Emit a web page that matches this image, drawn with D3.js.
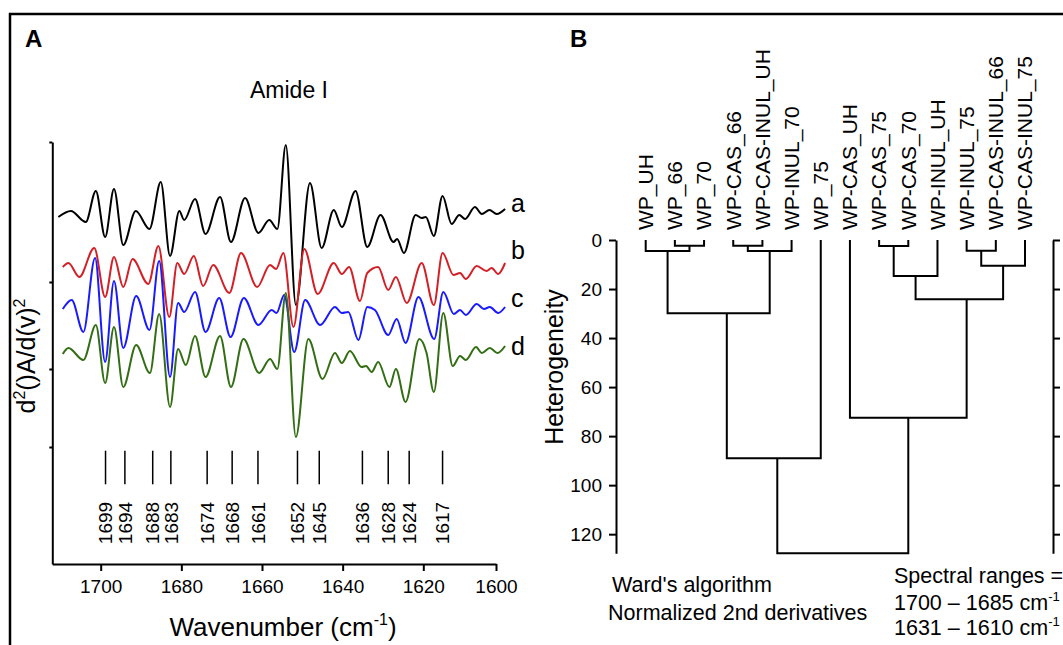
<!DOCTYPE html>
<html>
<head>
<meta charset="utf-8">
<script src="https://cdnjs.cloudflare.com/ajax/libs/d3/7.8.5/d3.min.js"></script>
<style>
  html, body { margin: 0; padding: 0; background: #fff; }
  svg { display: block; font-family: "Liberation Sans", Arial, sans-serif; }
</style>
</head>
<body>
<script>
/////////// DATA //////////
// Panel A: second derivative spectra, [wavenumber (cm-1), d2A (arbitrary units)]
const wavenumberTicks = [1700, 1680, 1660, 1640, 1620, 1600];
const intensityTicks = [1.17, 1.95, 2.82, 4.22]; // unlabelled ticks on the left axis

const seriesNames = ["a", "b", "c", "d"];
const seriesLabelLevels = [3.52, 3.05, 2.57, 2.09]; // where the a-d letters sit, in y units

const spectrumA = [[1710.5,3.47],[1707.4,3.53],[1703.7,3.42],[1701.2,3.73],[1698.9,3.27],[1696.7,3.75],[1694.4,3.19],[1691.3,3.53],[1687.9,3.35],[1685.1,3.82],[1682.8,3.08],[1680.5,3.53],[1679.3,3.44],[1676.6,3.65],[1674.0,3.30],[1670.4,3.67],[1667.7,3.22],[1664.2,3.66],[1660.9,3.31],[1658.2,3.44],[1656.2,3.35],[1654.1,4.19],[1651.6,2.59],[1648.1,3.81],[1645.2,3.16],[1642.2,3.54],[1640.2,3.37],[1636.8,3.73],[1633.9,3.17],[1630.6,3.49],[1627.4,3.22],[1626.5,3.25],[1624.8,3.11],[1621.9,3.49],[1620.4,3.46],[1619.3,3.47],[1617.1,3.28],[1614.7,3.68],[1612.2,3.40],[1610.1,3.49],[1608.5,3.45],[1605.8,3.57],[1603.9,3.50],[1601.8,3.54],[1599.8,3.50],[1597.5,3.55]];
const spectrumB = [[1709.4,2.97],[1708.0,3.01],[1705.3,2.87],[1701.6,3.16],[1698.9,2.67],[1696.7,3.07],[1694.4,2.77],[1692.1,3.05],[1688.2,2.80],[1685.7,3.18],[1683.0,2.47],[1681.0,3.01],[1679.3,2.90],[1676.9,3.08],[1674.6,2.78],[1672.1,2.99],[1668.1,2.71],[1665.2,3.11],[1661.2,2.77],[1658.0,2.99],[1656.5,2.95],[1654.7,3.11],[1652.2,2.37],[1649.5,3.15],[1646.2,2.70],[1642.2,3.01],[1640.2,2.90],[1638.4,2.97],[1635.7,2.63],[1633.9,2.91],[1631.2,2.97],[1628.7,2.74],[1626.8,2.87],[1624.1,2.61],[1620.4,3.01],[1617.1,2.59],[1614.7,3.11],[1611.7,2.89],[1609.9,2.91],[1608.3,2.85],[1605.3,2.98],[1602.6,2.93],[1601.2,2.96],[1599.4,2.90],[1597.5,3.01]];
const spectrumC = [[1709.4,2.55],[1707.2,2.64],[1704.3,2.32],[1701.4,3.06],[1698.9,2.02],[1696.7,2.83],[1694.4,2.16],[1691.2,2.68],[1687.9,2.34],[1685.5,3.03],[1682.8,1.87],[1680.8,2.61],[1679.3,2.52],[1676.6,2.72],[1674.0,2.32],[1670.6,2.66],[1667.8,2.27],[1664.5,2.66],[1660.9,2.39],[1657.6,2.54],[1656.4,2.51],[1654.5,2.69],[1652.0,2.12],[1649.3,2.64],[1645.6,2.39],[1641.9,2.57],[1640.2,2.51],[1638.6,2.52],[1636.1,2.24],[1633.9,2.57],[1632.0,2.54],[1628.7,2.29],[1626.6,2.45],[1624.4,2.21],[1621.2,2.67],[1617.0,2.25],[1614.5,2.72],[1611.6,2.50],[1609.9,2.54],[1608.3,2.49],[1605.3,2.60],[1603.3,2.55],[1601.7,2.57],[1599.4,2.51],[1597.5,2.57]];
const spectrumD = [[1709.4,2.10],[1708.0,2.16],[1704.3,2.04],[1701.2,2.39],[1698.9,1.81],[1696.7,2.37],[1694.4,1.77],[1691.2,2.19],[1687.8,1.91],[1685.5,2.50],[1682.8,1.57],[1680.8,2.15],[1678.9,1.99],[1676.6,2.28],[1674.0,1.87],[1670.4,2.28],[1667.7,1.77],[1664.6,2.25],[1660.7,1.91],[1658.0,2.05],[1656.2,1.95],[1654.1,2.71],[1651.6,1.27],[1648.5,2.25],[1645.0,1.85],[1641.9,2.11],[1640.2,2.01],[1638.2,2.13],[1635.3,1.97],[1634.2,1.98],[1632.8,1.92],[1631.2,2.02],[1628.4,1.77],[1626.8,1.95],[1624.4,1.62],[1621.0,2.25],[1619.1,2.11],[1617.1,1.72],[1614.5,2.51],[1611.9,1.98],[1609.9,2.08],[1608.3,2.04],[1605.5,2.17],[1603.9,2.11],[1601.7,2.16],[1599.6,2.11],[1597.5,2.18]];

// band assignments: label text and where the marker is drawn
const bandLabels = ["1699","1694","1688","1683","1674","1668","1661","1652","1645","1636","1628","1624","1617"];
const bandPositions = [1698.8, 1694.0, 1687.1, 1682.6, 1673.6, 1667.4, 1661.0, 1651.2, 1645.8, 1635.1, 1628.7, 1623.5, 1614.7];

// Panel B: Ward dendrogram
const heterogeneityTicks = [0, 20, 40, 60, 80, 100, 120];
const leafNames = ["WP_UH","WP_66","WP_70","WP-CAS_66","WP-CAS-INUL_UH","WP-INUL_70","WP_75",
                   "WP-CAS_UH","WP-CAS_75","WP-CAS_70","WP-INUL_UH","WP-INUL_75","WP-CAS-INUL_66","WP-CAS-INUL_75"];
// merges: children index (0-13 leaves, 14+ earlier merges), height, and
// where the merge stem is drawn, in leaf-order units (as placed in the figure)
const mergeChildren = [[1,2],[0,14],[3,4],[16,5],[15,17],[18,6],[8,9],[20,10],[11,12],[22,13],[21,23],[7,24],[19,25]];
const mergeHeights  = [2.3, 4.5, 2.3, 4.5, 29.9, 89.0, 2.4, 14.7, 4.4, 10.5, 24.2, 72.5, 127.8];
const mergePositions = [1.5, 0.75, 3.5, 4.25, 2.78, 4.51, 8.5, 9.25, 11.5, 12.25, 11.0, 9.0, 6.76];

(function(){

    /////////// CONFIGURATION //////////
    const width = 1063;
    const height = 645;
    const font = "'Liberation Sans', Arial, sans-serif";
    const seriesColors = ["#000000", "#d41f26", "#1a1aff", "#336e14"];

    const svg = d3.select("body").append("svg")
        .attr("width", width)
        .attr("height", height);

    // outer frame (left and top edges, the rest is cut off)
    svg.append("path")
        .attr("d", `M10,${height}V14H${width}`)
        .attr("fill", "none")
        .attr("stroke", "#000")
        .attr("stroke-width", 2.5);

    function styleAxis(g, size) {
        g.attr("font-family", null).attr("font-size", null);
        g.selectAll("path, line").attr("stroke", "#000").attr("stroke-width", 2);
        g.selectAll("text").attr("fill", "#000").style("font-family", font).style("font-size", size + "px");
    }

    /////////// PANEL A //////////
    function drawPanelA() {
        // last 20 cm-1 of the printed axis are compressed, so use a polylinear scale
        const x = d3.scaleLinear().domain([1712, 1620, 1600]).range([52.3, 423.3, 496]);
        const y = d3.scaleLinear().domain([0, 4.22]).range([564, 142]);

        svg.append("g")
            .attr("transform", `translate(0,${y(0)})`)
            .call(d3.axisBottom(x).tickValues(wavenumberTicks).tickSize(7).tickSizeOuter(0)
                .tickPadding(9).tickFormat(d3.format("d")))
            .call(g => styleAxis(g, 19));

        svg.append("g")
            .attr("transform", `translate(${x(1712)},0)`)
            .call(d3.axisLeft(y).tickValues(intensityTicks).tickSize(3).tickSizeOuter(0).tickFormat(""))
            .call(g => styleAxis(g, 19));

        const line = d3.line()
            .x(d => x(d[0]))
            .y(d => y(d[1]))
            .curve(d3.curveMonotoneX);

        const spectra = [spectrumA, spectrumB, spectrumC, spectrumD];
        svg.selectAll(".spectrum")
            .data(spectra)
            .enter().append("path")
            .attr("class", "spectrum")
            .attr("d", line)
            .attr("fill", "none")
            .attr("stroke", (d, i) => seriesColors[i])
            .attr("stroke-width", 2)
            .attr("stroke-linejoin", "round");

        svg.selectAll(".series-label")
            .data(seriesNames)
            .enter().append("text")
            .attr("class", "series-label")
            .attr("x", 511)
            .attr("y", (d, i) => y(seriesLabelLevels[i]))
            .style("font-family", font).style("font-size", "25px")
            .text(d => d);

        // band markers
        const bands = bandPositions.map((p, i) => ({ pos: p, label: bandLabels[i] }));
        svg.selectAll(".band")
            .data(bands)
            .enter().append("line")
            .attr("class", "band")
            .attr("x1", d => x(d.pos)).attr("x2", d => x(d.pos))
            .attr("y1", 450.7).attr("y2", 484.3)
            .attr("stroke", "#000").attr("stroke-width", 1.5);

        svg.selectAll(".band-label")
            .data(bands)
            .enter().append("text")
            .attr("class", "band-label")
            .attr("transform", d => `translate(${x(d.pos)},523) rotate(-90)`)
            .attr("text-anchor", "middle")
            .attr("dy", "0.35em")
            .style("font-family", font).style("font-size", "19px")
            .text(d => d.label);

        // titles
        svg.append("text").attr("x", 25).attr("y", 47)
            .style("font-family", font).style("font-size", "24px").style("font-weight", "bold")
            .text("A");

        svg.append("text").attr("x", 289).attr("y", 98).attr("text-anchor", "middle")
            .style("font-family", font).style("font-size", "23px")
            .text("Amide I");

        const xTitle = svg.append("text").attr("x", 283).attr("y", 636).attr("text-anchor", "middle")
            .style("font-family", font).style("font-size", "26px");
        xTitle.append("tspan").text("Wavenumber (cm");
        xTitle.append("tspan").attr("dy", -11).style("font-size", "16px").text("-1");
        xTitle.append("tspan").attr("dy", 11).text(")");

        const yTitle = svg.append("text").attr("transform", "translate(35,356) rotate(-90)")
            .attr("text-anchor", "middle")
            .style("font-family", font).style("font-size", "25px");
        yTitle.append("tspan").text("d");
        yTitle.append("tspan").attr("dy", -10).style("font-size", "16px").text("2");
        yTitle.append("tspan").attr("dy", 10).text("()A/d(v)");
        yTitle.append("tspan").attr("dy", -10).style("font-size", "16px").text("2");
    }

    /////////// PANEL B //////////
    function drawPanelB() {
        const x = d3.scaleLinear().domain([0, leafNames.length - 1]).range([645.7, 1025]); // leaf order -> px
        const y = d3.scaleLinear().domain([0, 127.8]).range([240, 553.3]);

        svg.append("g")
            .attr("transform", "translate(616,0)")
            .call(d3.axisLeft(y).tickValues(heterogeneityTicks).tickSize(7).tickSizeOuter(0).tickPadding(7))
            .call(g => styleAxis(g, 19));

        // axis of the next panel, mostly outside the picture
        svg.append("g")
            .attr("transform", "translate(1053,0)")
            .call(d3.axisRight(y).tickValues(heterogeneityTicks).tickSize(7).tickSizeOuter(0).tickFormat(""))
            .call(g => styleAxis(g, 19));

        // nodes: leaves first, then each merge in order
        const nodes = leafNames.map((n, i) => ({ pos: i, h: 0 }));
        const links = [];
        mergeChildren.forEach((c, i) => {
            const node = { pos: mergePositions[i], h: mergeHeights[i] };
            links.push({ a: nodes[c[0]], b: nodes[c[1]], h: node.h });
            nodes.push(node);
        });

        svg.selectAll(".link")
            .data(links)
            .enter().append("path")
            .attr("class", "link")
            .attr("d", d => `M${x(d.a.pos)},${y(d.a.h)}V${y(d.h)}H${x(d.b.pos)}V${y(d.b.h)}`)
            .attr("fill", "none")
            .attr("stroke", "#000")
            .attr("stroke-width", 2);

        svg.selectAll(".leaf")
            .data(leafNames)
            .enter().append("text")
            .attr("class", "leaf")
            .attr("transform", (d, i) => `translate(${x(i)},230) rotate(-90)`)
            .attr("dy", "0.35em")
            .style("font-family", font).style("font-size", "21px")
            .text(d => d);

        svg.append("text").attr("x", 570).attr("y", 47)
            .style("font-family", font).style("font-size", "24px").style("font-weight", "bold")
            .text("B");

        svg.append("text").attr("transform", "translate(563,367) rotate(-90)")
            .attr("text-anchor", "middle")
            .style("font-family", font).style("font-size", "25px")
            .text("Heterogeneity");

        const notes = [["Ward's algorithm", 612, 592], ["Normalized 2nd derivatives", 608, 620]];
        notes.forEach(n => {
            svg.append("text").attr("x", n[1]).attr("y", n[2])
                .style("font-family", font).style("font-size", "21.5px").text(n[0]);
        });

        svg.append("text").attr("x", 894).attr("y", 583)
            .style("font-family", font).style("font-size", "21.5px").text("Spectral ranges =");
        [["1700 \u2013 1685 cm", 610], ["1631 \u2013 1610 cm", 635]].forEach(r => {
            const t = svg.append("text").attr("x", 894).attr("y", r[1])
                .style("font-family", font).style("font-size", "21.5px");
            t.append("tspan").text(r[0]);
            t.append("tspan").attr("dy", -9).style("font-size", "13px").text("-1");
        });
    }

    drawPanelA();
    drawPanelB();
})();
</script>
</body>
</html>
